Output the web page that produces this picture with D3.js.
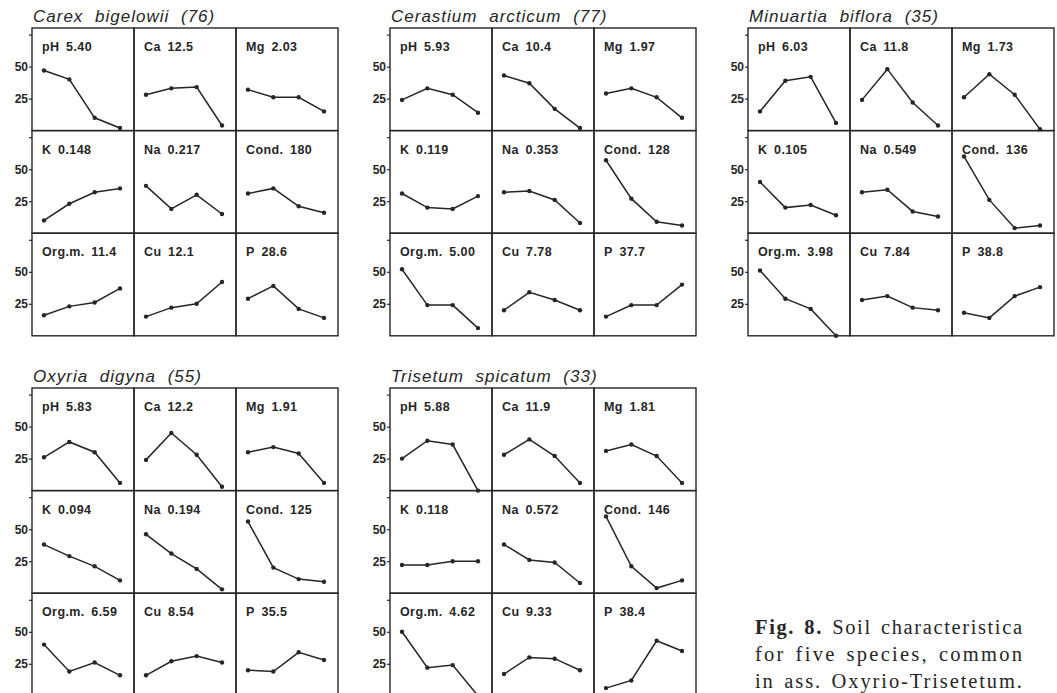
<!DOCTYPE html>
<html>
<head>
<meta charset="utf-8">
<script src="https://cdn.jsdelivr.net/npm/d3@7/dist/d3.min.js"></script>
<style>
  body { margin: 0; background: #fff; }
  svg { display: block; }
</style>
</head>
<body>
<div id="viz"></div>
<script>
/* Soil characteristics, 5 species x 9 variables, % of samples in 4 classes */

var species = ['Carex bigelowii (76)', 'Cerastium arcticum (77)', 'Minuartia biflora (35)',
               'Oxyria digyna (55)', 'Trisetum spicatum (33)'];

var variables = ['pH', 'Ca', 'Mg', 'K', 'Na', 'Cond.', 'Org.m.', 'Cu', 'P'];

var means = [
  ['5.40', '12.5', '2.03', '0.148', '0.217', '180', '11.4', '12.1', '28.6'],
  ['5.93', '10.4', '1.97', '0.119', '0.353', '128', '5.00', '7.78', '37.7'],
  ['6.03', '11.8', '1.73', '0.105', '0.549', '136', '3.98', '7.84', '38.8'],
  ['5.83', '12.2', '1.91', '0.094', '0.194', '125', '6.59', '8.54', '35.5'],
  ['5.88', '11.9', '1.81', '0.118', '0.572', '146', '4.62', '9.33', '38.4']
];

var classes = [0, 1, 2, 3];

var carex     = [[47, 40, 10, 2], [28, 33, 34, 4], [32, 26, 26, 15],
                 [10, 23, 32, 35], [37, 19, 30, 15], [31, 35, 21, 16],
                 [16, 23, 26, 37], [15, 22, 25, 42], [29, 39, 21, 14]];
var cerastium = [[24, 33, 28, 14], [43, 37, 17, 2], [29, 33, 26, 10],
                 [31, 20, 19, 29], [32, 33, 26, 8], [57, 27, 9, 6],
                 [52, 24, 24, 6], [20, 34, 28, 20], [15, 24, 24, 40]];
var minuartia = [[15, 39, 42, 6], [24, 48, 22, 4], [26, 44, 28, 1],
                 [40, 20, 22, 14], [32, 34, 17, 13], [60, 26, 4, 6],
                 [51, 29, 21, 0], [28, 31, 22, 20], [18, 14, 31, 38]];
var oxyria    = [[26, 38, 30, 6], [24, 45, 28, 3], [30, 34, 29, 6],
                 [38, 29, 21, 10], [46, 31, 19, 3], [56, 20, 11, 9],
                 [40, 19, 26, 16], [16, 27, 31, 26], [20, 19, 34, 28]];
var trisetum  = [[25, 39, 36, 0], [28, 40, 27, 6], [31, 36, 27, 6],
                 [22, 22, 25, 25], [38, 26, 24, 8], [60, 21, 4, 10],
                 [50, 22, 24, 0], [17, 30, 29, 20], [6, 12, 43, 35]];

var percents = [carex, cerastium, minuartia, oxyria, trisetum];

var yTicks = [25, 50, 75];

var caption = ['Soil characteristica', 'for five species, common', 'in ass. Oxyrio-Trisetetum.'];

var width = 1057,
    height = 693,
    cellW = 102,
    cellH = 102.6,
    ink = '#262626';

var svg = d3.select('#viz').append('svg')
    .attr('width', width)
    .attr('height', height)
    .style('background', '#fff');

var xScale = d3.scalePoint()
    .domain(classes)
    .range([12, 88]);

var yScale = d3.scaleLinear()
    .domain([0, 80])
    .range([cellH, cellH - 80 * 32 / 25]);

var yAxis = d3.axisLeft(yScale)
    .tickValues(yTicks)
    .tickSize(3)
    .tickPadding(1)
    .tickFormat(function(d) { return d === 75 ? '' : d; });

var line = d3.line()
    .x(function(d, i) { return xScale(classes[i]); })
    .y(function(d) { return yScale(d); });

species.forEach(function(name, s) {
  var px = 32 + (s % 3) * 358,
      py = 28 + Math.floor(s / 3) * 360;

  var panel = svg.append('g')
      .attr('transform', 'translate(' + px + ',' + py + ')');

  // species title
  panel.append('text')
      .attr('x', 1)
      .attr('y', -6)
      .attr('font-family', 'Liberation Sans, Arial, sans-serif')
      .attr('font-style', 'italic')
      .attr('font-size', 17)
      .attr('letter-spacing', 1)
      .attr('word-spacing', 6)
      .attr('fill', ink)
      .text(name);

  // y guides, one per row
  for (var r = 0; r < 3; r++) {
    var g = panel.append('g')
        .attr('transform', 'translate(0,' + (r * cellH) + ')')
        .call(yAxis);
    g.select('.domain').remove();
    g.selectAll('line').attr('stroke', ink).attr('stroke-width', 1.2);
    g.selectAll('text')
        .attr('font-family', 'Liberation Sans, Arial, sans-serif')
        .attr('font-weight', 'bold')
        .attr('font-size', 12)
        .attr('fill', ink);
  }

  var cells = panel.selectAll('g.cell')
      .data(variables)
      .enter().append('g')
        .attr('class', 'cell')
        .attr('transform', function(d, i) {
          return 'translate(' + ((i % 3) * cellW) + ',' + (Math.floor(i / 3) * cellH) + ')';
        });

  cells.append('rect')
      .attr('width', cellW)
      .attr('height', cellH)
      .attr('fill', 'none')
      .attr('stroke', ink)
      .attr('stroke-width', 1.4);

  cells.append('text')
      .attr('x', 10)
      .attr('y', 23)
      .attr('font-family', 'Liberation Sans, Arial, sans-serif')
      .attr('font-weight', 'bold')
      .attr('font-size', 12.5)
      .attr('letter-spacing', 0.4)
      .attr('fill', ink)
      .text(function(d, i) { return d + '\u2002' + means[s][i]; });

  cells.append('path')
      .datum(function(d, i) { return percents[s][i]; })
      .attr('d', line)
      .attr('fill', 'none')
      .attr('stroke', ink)
      .attr('stroke-width', 1.5);

  cells.each(function(d, i) {
    d3.select(this).selectAll('circle')
        .data(percents[s][i])
        .enter().append('circle')
          .attr('cx', function(v, k) { return xScale(classes[k]); })
          .attr('cy', function(v) { return yScale(v); })
          .attr('r', 2.2)
          .attr('fill', ink);
  });
});

// figure caption, justified: a little extra word gap, the rest spread over letters
var capWidth = 267;

var cap = svg.append('g')
    .attr('font-family', 'Liberation Serif, Times New Roman, serif')
    .attr('font-size', 20.5)
    .attr('fill', ink);

cap.selectAll('text')
    .data(caption)
    .enter().append('text')
      .attr('x', 755)
      .attr('y', function(d, i) { return 634 + i * 27; })
      .attr('word-spacing', 2.5)
      .each(function(d, i) {
        var t = d3.select(this);
        var txt = d;
        if (i === 0) {
          t.append('tspan').attr('font-weight', 'bold').text('Fig. 8.');
          txt = ' ' + d;
        }
        t.append('tspan').text(txt);
        var chars = (i === 0 ? 'Fig. 8.'.length : 0) + txt.length - 1;
        var extra = (capWidth - this.getComputedTextLength()) / chars;
        t.attr('letter-spacing', Math.max(0, extra));
      });
</script>
</body>
</html>
